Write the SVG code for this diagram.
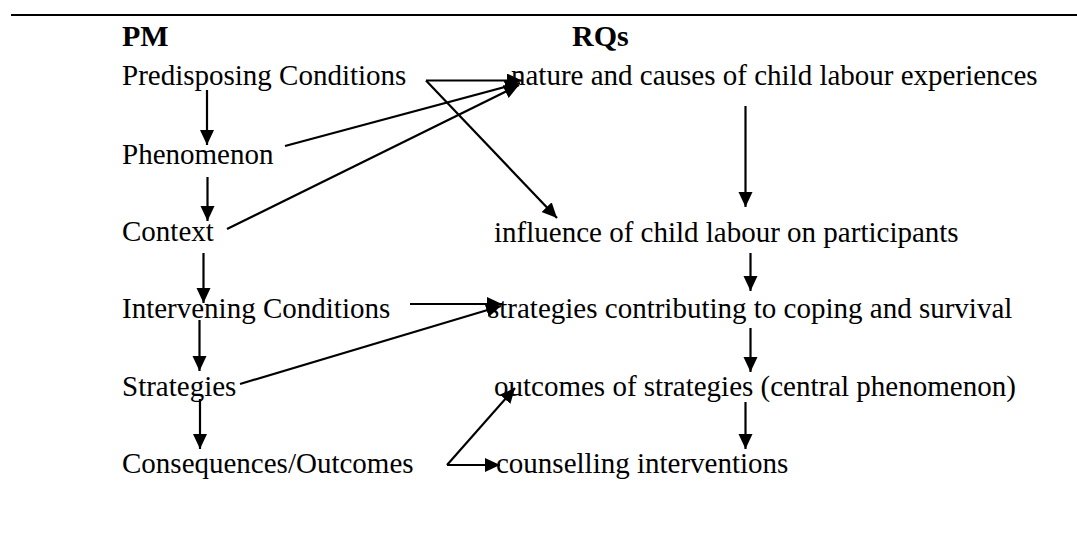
<svg xmlns="http://www.w3.org/2000/svg" width="1077" height="551" viewBox="0 0 1077 551">
  <style>
    text { font-family: "Liberation Serif", "Times New Roman", serif; font-size: 29px; fill: #000; }
    .head { font-weight: bold; font-size: 30px; }
    .conn line { stroke: #000; stroke-width: 2.2; fill: none; }
  </style>
  <defs>
    <!-- solid triangular arrowhead shared by every connector -->
    <marker id="arrow" markerUnits="userSpaceOnUse" markerWidth="16" markerHeight="15" refX="15" refY="7" orient="auto">
      <path d="M0,0 L15,7 L0,14 z" fill="#000"/>
    </marker>
  </defs>
  <rect width="1077" height="551" fill="#fff"/>

  <!-- rule across the top -->
  <line x1="11" y1="15" x2="1077" y2="15" stroke="#000" stroke-width="2"/>

  <!-- column headings -->
  <g id="heading-pm"><text class="head" x="122" y="46">PM</text></g>
  <g id="heading-rqs"><text class="head" x="572" y="46">RQs</text></g>

  <!-- paradigm model column -->
  <g id="pm-predisposing"><text x="122" y="85">Predisposing Conditions</text></g>
  <g id="pm-phenomenon"><text x="122" y="164">Phenomenon</text></g>
  <g id="pm-context"><text x="122" y="241">Context</text></g>
  <g id="pm-intervening"><text x="122" y="318">Intervening Conditions</text></g>
  <g id="pm-strategies"><text x="122" y="396">Strategies</text></g>
  <g id="pm-consequences"><text x="122" y="473">Consequences/Outcomes</text></g>

  <!-- research questions column -->
  <g id="rq-nature"><text x="511" y="85">nature and causes of child labour experiences</text></g>
  <g id="rq-influence"><text x="494" y="242">influence of child labour on participants</text></g>
  <g id="rq-strategies"><text x="488" y="318">strategies contributing to coping and survival</text></g>
  <g id="rq-outcomes"><text x="494" y="396">outcomes of strategies (central phenomenon)</text></g>
  <g id="rq-counselling"><text x="496" y="473">counselling interventions</text></g>

  <!-- connectors -->
  <g id="connectors" class="conn">
    <!-- down the paradigm model column -->
    <line x1="207" y1="90" x2="207" y2="145" marker-end="url(#arrow)"/>
    <line x1="207.5" y1="177" x2="207.5" y2="221" marker-end="url(#arrow)"/>
    <line x1="203.5" y1="253" x2="203.5" y2="303" marker-end="url(#arrow)"/>
    <line x1="199.5" y1="320" x2="199.5" y2="371" marker-end="url(#arrow)"/>
    <line x1="200" y1="399" x2="200" y2="449" marker-end="url(#arrow)"/>

    <!-- down the research question column -->
    <line x1="745.5" y1="106" x2="745.5" y2="207" marker-end="url(#arrow)"/>
    <line x1="750.5" y1="253" x2="750.5" y2="291" marker-end="url(#arrow)"/>
    <line x1="750.5" y1="328" x2="750.5" y2="372" marker-end="url(#arrow)"/>
    <line x1="745.5" y1="402" x2="745.5" y2="449" marker-end="url(#arrow)"/>

    <!-- across from the paradigm model to the questions -->
    <line x1="426" y1="80.5" x2="522" y2="80.5" marker-end="url(#arrow)"/>
    <line x1="426" y1="80.5" x2="557" y2="218" marker-end="url(#arrow)"/>
    <line x1="285" y1="146" x2="520" y2="83" marker-end="url(#arrow)"/>
    <line x1="227" y1="229" x2="519" y2="85" marker-end="url(#arrow)"/>
    <line x1="410" y1="304" x2="502" y2="304" marker-end="url(#arrow)"/>
    <line x1="240" y1="384" x2="501" y2="306" marker-end="url(#arrow)"/>
    <line x1="447" y1="465" x2="515" y2="388" marker-end="url(#arrow)"/>
    <line x1="447" y1="465" x2="500" y2="465" marker-end="url(#arrow)"/>
  </g>
</svg>
